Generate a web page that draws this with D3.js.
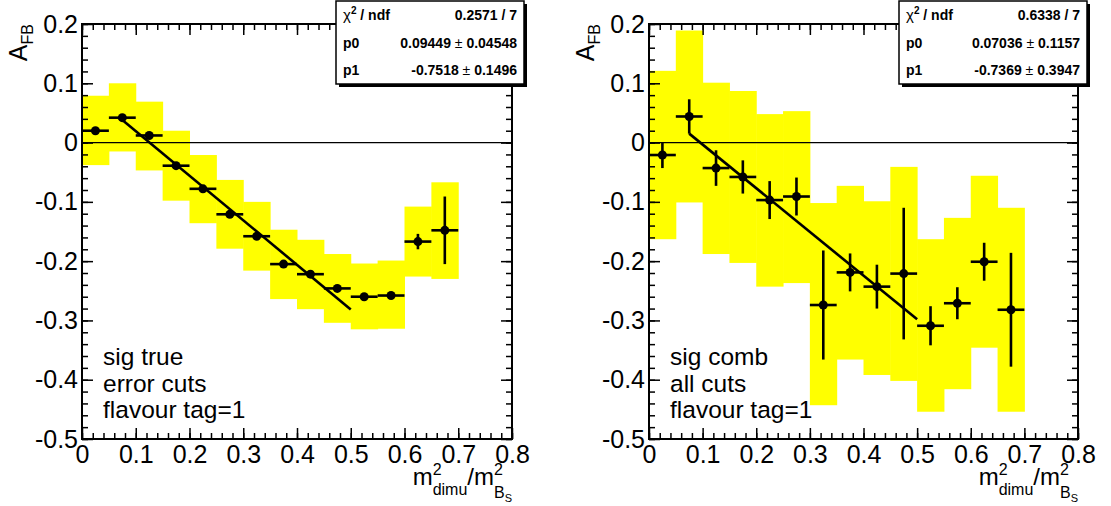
<!DOCTYPE html>
<html lang="en">
<head>
<meta charset="UTF-8">
<title>A_FB vs m2dimu/m2Bs</title>
<script src="https://d3js.org/d3.v7.min.js"></script>
<style>
    body { margin: 0; background: #fff; }
    svg { display: block; font-family: "Liberation Sans", Arial, sans-serif; }
</style>
</head>
<body>
<svg id="chart" width="1111" height="506"></svg>
<script>
// bin centres (bin width 0.05)
const binCenters = [0.025, 0.075, 0.125, 0.175, 0.225, 0.275, 0.325, 0.375, 0.425, 0.475, 0.525, 0.575, 0.625, 0.675];
const binHalf = 0.025;

// left panel: sig true, error cuts
const leftVals = [0.020, 0.042, 0.012, -0.039, -0.078, -0.121, -0.158, -0.205, -0.222, -0.246, -0.260, -0.258, -0.167, -0.148];
const leftErrs = [0.004, 0.004, 0.004, 0.004, 0.004, 0.004, 0.004, 0.004, 0.004, 0.004, 0.004, 0.004, 0.013, 0.057];
const leftBandLo = [-0.038, -0.015, -0.047, -0.098, -0.136, -0.179, -0.216, -0.264, -0.281, -0.304, -0.315, -0.314, -0.226, -0.230];
const leftBandHi = [0.079, 0.100, 0.069, 0.020, -0.021, -0.063, -0.100, -0.147, -0.164, -0.188, -0.204, -0.199, -0.108, -0.067];

// right panel: sig comb, all cuts
const rightVals = [-0.021, 0.044, -0.043, -0.058, -0.097, -0.091, -0.274, -0.219, -0.243, -0.221, -0.309, -0.271, -0.201, -0.282];
const rightErrs = [0.022, 0.029, 0.030, 0.028, 0.032, 0.032, 0.092, 0.032, 0.037, 0.111, 0.033, 0.027, 0.032, 0.096];
const rightBandLo = [-0.163, -0.101, -0.188, -0.203, -0.243, -0.237, -0.443, -0.366, -0.392, -0.402, -0.454, -0.416, -0.346, -0.454];
const rightBandHi = [0.121, 0.189, 0.101, 0.087, 0.048, 0.053, -0.102, -0.073, -0.099, -0.041, -0.163, -0.127, -0.056, -0.110];

// linear fits p0 + p1*x
const leftFit = { p0: 0.09449, p1: -0.7518, from: 0.07, to: 0.5 };
const rightFit = { p0: 0.07036, p1: -0.7369, from: 0.075, to: 0.5 };

const leftStats = [["ndf", "0.2571 / 7"], ["p0", "0.09449", "0.04548"], ["p1", "-0.7518", "0.1496"]];
const rightStats = [["ndf", "0.6338 / 7"], ["p0", "0.07036", "0.1157"], ["p1", "-0.7369", "0.3947"]];

const leftNotes = ["sig true", "error cuts", "flavour tag=1"];
const rightNotes = ["sig comb", "all cuts", "flavour tag=1"];

const xTicks = [0, 0.1, 0.2, 0.3, 0.4, 0.5, 0.6, 0.7, 0.8];
const yTicks = [-0.5, -0.4, -0.3, -0.2, -0.1, 0, 0.1, 0.2];

const svg = d3.select("#chart");
svg.append("rect").attr("width", 1111).attr("height", 506).attr("fill", "#fff");

const frameTop = 24, frameBottom = 439;
const fmt = d => d === 0 ? "0" : String(+d.toFixed(1));

const panels = [
    { x0: 82, x1: 512, vals: leftVals, errs: leftErrs, lo: leftBandLo, hi: leftBandHi, fit: leftFit, stats: leftStats, notes: leftNotes, boxX: 336 },
    { x0: 649, x1: 1078, vals: rightVals, errs: rightErrs, lo: rightBandLo, hi: rightBandHi, fit: rightFit, stats: rightStats, notes: rightNotes, boxX: 899 }
];

panels.forEach(p => {
    const x = d3.scaleLinear().domain([0, 0.8]).range([p.x0, p.x1]);
    const y = d3.scaleLinear().domain([-0.5, 0.2]).range([frameBottom, frameTop]);
    const g = svg.append("g");

    // yellow bands
    g.selectAll("rect.band")
        .data(binCenters)
        .enter().append("rect")
        .attr("class", "band")
        .attr("x", d => x(d - binHalf))
        .attr("width", d => x(d + binHalf) - x(d - binHalf) + 0.5)
        .attr("y", (d, i) => y(p.hi[i]))
        .attr("height", (d, i) => y(p.lo[i]) - y(p.hi[i]))
        .attr("fill", "#ffff00");

    // zero line
    g.append("line")
        .attr("x1", x(0)).attr("x2", x(0.8))
        .attr("y1", y(0)).attr("y2", y(0))
        .attr("stroke", "#000").attr("stroke-width", 1.2);

    // error bars
    g.selectAll("line.ex")
        .data(binCenters)
        .enter().append("line")
        .attr("class", "ex")
        .attr("x1", d => x(d - binHalf)).attr("x2", d => x(d + binHalf))
        .attr("y1", (d, i) => y(p.vals[i])).attr("y2", (d, i) => y(p.vals[i]))
        .attr("stroke", "#000").attr("stroke-width", 2.6);
    g.selectAll("line.ey")
        .data(binCenters)
        .enter().append("line")
        .attr("class", "ey")
        .attr("x1", d => x(d)).attr("x2", d => x(d))
        .attr("y1", (d, i) => y(p.vals[i] - p.errs[i])).attr("y2", (d, i) => y(p.vals[i] + p.errs[i]))
        .attr("stroke", "#000").attr("stroke-width", 2.6);

    // markers
    g.selectAll("circle")
        .data(binCenters)
        .enter().append("circle")
        .attr("cx", d => x(d))
        .attr("cy", (d, i) => y(p.vals[i]))
        .attr("r", 4.5)
        .attr("fill", "#000");

    // fit line
    const f = p.fit;
    g.append("line")
        .attr("x1", x(f.from)).attr("y1", y(f.p0 + f.p1 * f.from))
        .attr("x2", x(f.to)).attr("y2", y(f.p0 + f.p1 * f.to))
        .attr("stroke", "#000").attr("stroke-width", 2.6);

    // axes (ROOT style ticks inside)
    const minorX = d3.range(0, 0.8001, 0.02);
    const minorY = d3.range(-0.5, 0.2001, 0.02);

    const bx = g.append("g").attr("transform", `translate(0,${frameBottom})`)
        .call(d3.axisBottom(x).tickValues(xTicks).tickSize(-11).tickSizeOuter(0).tickPadding(4).tickFormat(fmt));
    g.append("g").attr("transform", `translate(0,${frameBottom})`)
        .call(d3.axisBottom(x).tickValues(minorX).tickSize(-6).tickSizeOuter(0).tickFormat(""));
    g.append("g").attr("transform", `translate(0,${frameTop})`)
        .call(d3.axisTop(x).tickValues(xTicks).tickSize(-11).tickSizeOuter(0).tickFormat(""));
    g.append("g").attr("transform", `translate(0,${frameTop})`)
        .call(d3.axisTop(x).tickValues(minorX).tickSize(-6).tickSizeOuter(0).tickFormat(""));

    const ly = g.append("g").attr("transform", `translate(${p.x0},0)`)
        .call(d3.axisLeft(y).tickValues(yTicks).tickSize(-11).tickSizeOuter(0).tickPadding(4).tickFormat(fmt));
    g.append("g").attr("transform", `translate(${p.x0},0)`)
        .call(d3.axisLeft(y).tickValues(minorY).tickSize(-6).tickSizeOuter(0).tickFormat(""));
    g.append("g").attr("transform", `translate(${p.x1},0)`)
        .call(d3.axisRight(y).tickValues(yTicks).tickSize(-11).tickSizeOuter(0).tickFormat(""));
    g.append("g").attr("transform", `translate(${p.x1},0)`)
        .call(d3.axisRight(y).tickValues(minorY).tickSize(-6).tickSizeOuter(0).tickFormat(""));

    g.selectAll(".domain").remove();
    g.selectAll(".tick line").attr("stroke", "#000").attr("stroke-width", 1.5);
    bx.selectAll("text").attr("font-size", 25).attr("font-family", "Liberation Sans").attr("fill", "#000").attr("dy", "0.8em");
    ly.selectAll("text").attr("font-size", 25).attr("font-family", "Liberation Sans").attr("fill", "#000");

    // frame
    g.append("rect")
        .attr("x", p.x0).attr("y", frameTop)
        .attr("width", p.x1 - p.x0).attr("height", frameBottom - frameTop)
        .attr("fill", "none").attr("stroke", "#000").attr("stroke-width", 2);

    // y title A_FB
    const yt = g.append("text")
        .attr("transform", `translate(${p.x0 - 55},${frameTop}) rotate(-90)`)
        .attr("text-anchor", "end")
        .attr("font-size", 25);
    yt.append("tspan").text("A");
    yt.append("tspan").attr("font-size", 16).attr("dy", 6).text("FB");

    // x title m^2_dimu / m^2_{B_S}
    const xt = g.append("g");
    let cx = 0;
    const piece = (txt, size, dy, xpos) => {
        const t = xt.append("text").attr("x", xpos).attr("y", dy).attr("font-size", size).text(txt);
        return t.node().getComputedTextLength();
    };
    cx += piece("m", 24, 0, cx);
    let w1 = piece("2", 16, -10, cx);
    let w2 = piece("dimu", 16, 10, cx);
    cx += Math.max(w1, w2);
    cx += piece("/m", 24, 0, cx);
    w1 = piece("2", 16, -10, cx);
    w2 = piece("B", 16, 13, cx);
    w2 += piece("S", 11, 17, cx + w2);
    cx += Math.max(w1, w2);
    xt.attr("transform", `translate(${p.x1 - cx},485)`);

    // notes
    g.selectAll("text.note")
        .data(p.notes)
        .enter().append("text")
        .attr("class", "note")
        .attr("x", p.x0 + 21)
        .attr("y", (d, i) => 365 + i * 26.5)
        .attr("font-size", 24.5)
        .text(d => d);

    // stats box
    const bw = 188, bh = 83;
    const sb = g.append("g").attr("transform", `translate(${p.boxX},1)`);
    sb.append("rect").attr("x", 3).attr("y", 3).attr("width", bw).attr("height", bh).attr("fill", "#000");
    sb.append("rect").attr("x", 0).attr("y", 0).attr("width", bw).attr("height", bh)
        .attr("fill", "#fff").attr("stroke", "#000").attr("stroke-width", 1.5);
    p.stats.forEach((row, i) => {
        const by = 19 + i * 27.5;
        const lab = sb.append("text").attr("x", 7).attr("y", by).attr("font-size", 14).attr("font-weight", "bold");
        if (i === 0) {
            lab.append("tspan").attr("font-weight", "normal").attr("font-size", 15).text("\u03c7");
            lab.append("tspan").attr("font-size", 10).attr("dy", -6).text("2");
            lab.append("tspan").attr("dy", 6).text(" / " + row[0]);
        } else {
            lab.text(row[0]);
        }
        const val = sb.append("text").attr("x", bw - 7).attr("y", by).attr("text-anchor", "end")
            .attr("font-size", 14).attr("font-weight", "bold");
        if (row.length === 2) {
            val.text(row[1]);
        } else {
            val.append("tspan").text(row[1] + " ");
            val.append("tspan").attr("font-weight", "normal").text("\u00b1");
            val.append("tspan").text(" " + row[2]);
        }
    });
});
</script>
</body>
</html>
